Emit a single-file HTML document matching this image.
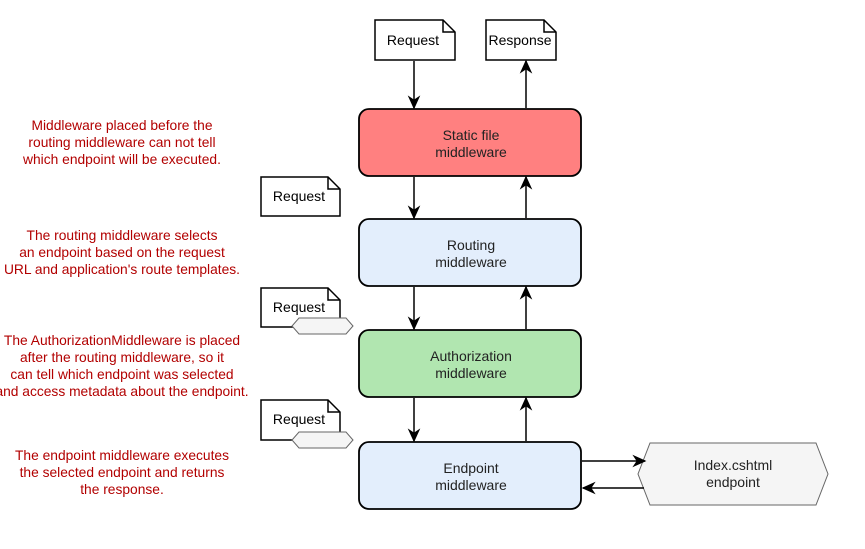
<!DOCTYPE html>
<html><head><meta charset="utf-8"><style>
body{margin:0;background:#fff;width:865px;height:544px;overflow:hidden}
svg text{font-family:"Liberation Sans",sans-serif}
</style></head><body>
<svg width="865" height="544" xmlns="http://www.w3.org/2000/svg">
<defs>
<marker id="b" viewBox="0 0 10 10" refX="9" refY="5" markerWidth="14" markerHeight="14" orient="auto" markerUnits="userSpaceOnUse"><path d="M0,0.5 L10,5 L0,9.5 L3,5 z" fill="#000"/></marker></defs>
<g fill="#b20000" font-size="13.8" text-anchor="middle">
<text x="122" y="130">Middleware placed before the</text>
<text x="122" y="147">routing middleware can not tell</text>
<text x="122" y="164">which endpoint will be executed.</text>
<text x="122" y="240">The routing middleware selects</text>
<text x="122" y="257">an endpoint based on the request</text>
<text x="122" y="274">URL and application's route templates.</text>
<text x="122" y="345">The AuthorizationMiddleware is placed</text>
<text x="122" y="362">after the routing middleware, so it</text>
<text x="122" y="379">can tell which endpoint was selected</text>
<text x="122" y="396">and access metadata about the endpoint.</text>
<text x="122" y="460">The endpoint middleware executes</text>
<text x="122" y="477">the selected endpoint and returns</text>
<text x="122" y="494">the response.</text>
</g>
<g stroke="#000" stroke-width="1.5" fill="#fff">
<path d="M375,20 H443 L455,32 V60 H375 Z"/><path d="M443,20 V32 H455" fill="none"/>
<path d="M486,20 H544 L556,32 V60 H486 Z"/><path d="M544,20 V32 H556" fill="none"/>
<path d="M261,177 H328 L340,189 V216 H261 Z"/><path d="M328,177 V189 H340" fill="none"/>
<path d="M261,288 H328 L340,300 V327 H261 Z"/><path d="M328,288 V300 H340" fill="none"/>
<path d="M261,400 H328 L340,412 V440 H261 Z"/><path d="M328,400 V412 H340" fill="none"/>
</g>
<g stroke="#666" stroke-width="1" fill="#f5f5f5">
<path d="M299,318 H346 L353,326 L346,334 H299 L292,326 Z"/>
<path d="M299,432 H346 L353,440 L346,448 H299 L292,440 Z"/>
<path d="M650,443 H816 L828,474 L816,505 H650 L638,474 Z"/>
</g>
<g font-size="14" text-anchor="middle" fill="#000">
<text x="413" y="45">Request</text><text x="520" y="45">Response</text>
<text x="299" y="201">Request</text><text x="299" y="312">Request</text><text x="299" y="424">Request</text>
</g>
<g stroke="#000" stroke-width="1.8">
<rect x="359" y="109" width="222" height="67" rx="10" fill="#ff8080"/>
<rect x="359" y="219" width="222" height="67" rx="10" fill="#e3eefc"/>
<rect x="359" y="330" width="222" height="67" rx="10" fill="#b1e6b0"/>
<rect x="359" y="442" width="222" height="67" rx="10" fill="#e3eefc"/>
</g>
<g font-size="14" text-anchor="middle" fill="#222">
<text x="471" y="140">Static file</text><text x="471" y="157">middleware</text>
<text x="471" y="250">Routing</text><text x="471" y="267">middleware</text>
<text x="471" y="361">Authorization</text><text x="471" y="378">middleware</text>
<text x="471" y="473">Endpoint</text><text x="471" y="490">middleware</text>
<text x="733" y="470">Index.cshtml</text><text x="733" y="487">endpoint</text>
</g>
<g stroke="#000" stroke-width="1.5" marker-end="url(#b)">
<line x1="414" y1="61" x2="414" y2="108"/>
<line x1="526" y1="108" x2="526" y2="61"/>
<line x1="414" y1="177" x2="414" y2="218"/>
<line x1="526" y1="218" x2="526" y2="177"/>
<line x1="414" y1="287" x2="414" y2="329"/>
<line x1="526" y1="329" x2="526" y2="287"/>
<line x1="414" y1="398" x2="414" y2="441"/>
<line x1="526" y1="441" x2="526" y2="398"/>
<line x1="582" y1="461" x2="645" y2="461"/>
<line x1="644" y1="488" x2="583" y2="488"/>
</g>
</svg>
</body></html>
